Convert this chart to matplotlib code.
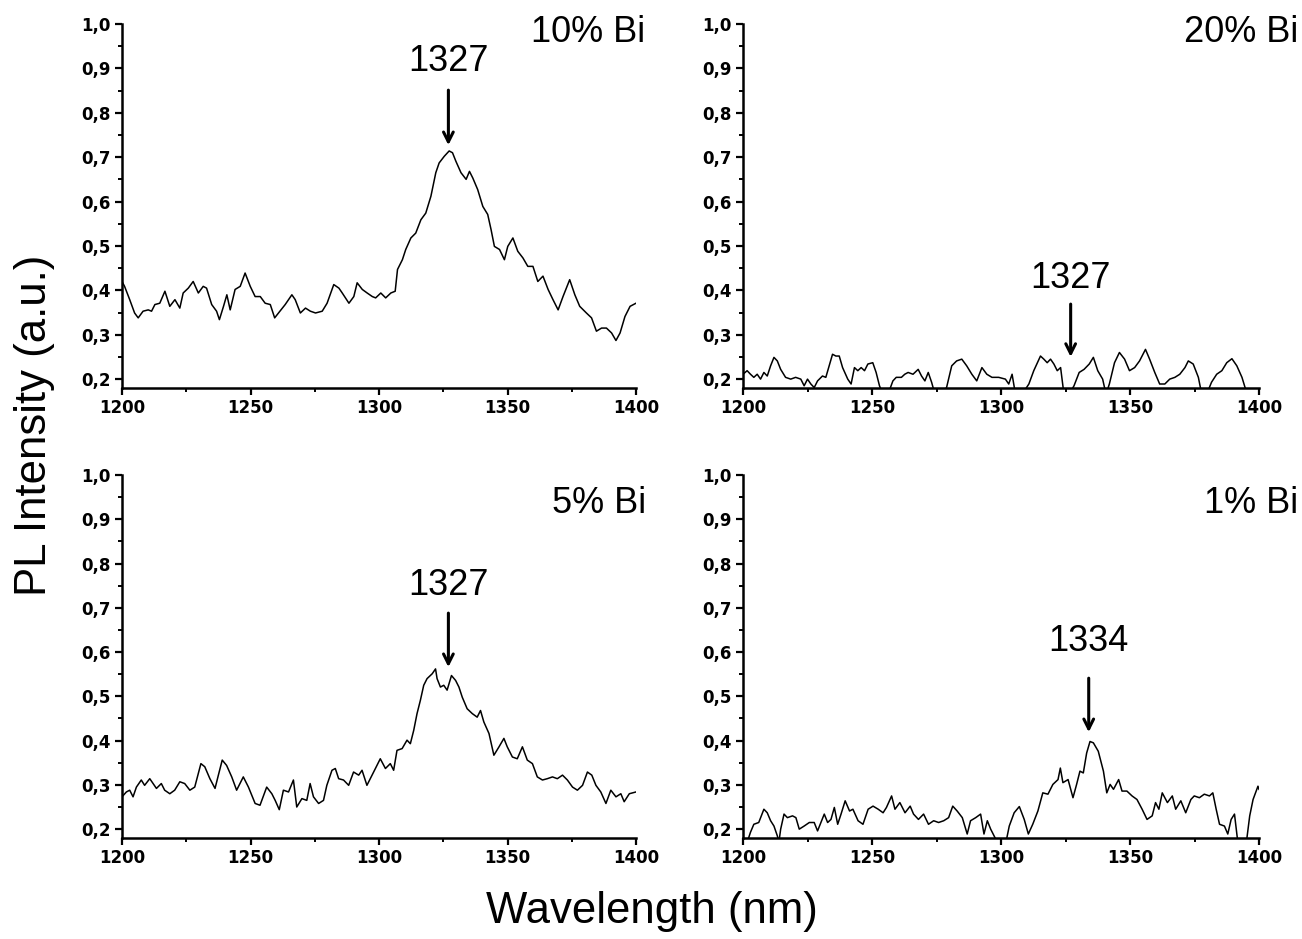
import matplotlib
matplotlib.use("Agg")
import matplotlib.pyplot as plt
from matplotlib.ticker import MultipleLocator, FuncFormatter

plt.rcParams['font.family'] = ['Liberation Sans', 'DejaVu Sans']

# ---------------- data ----------------
wl_10 = [1200.0, 1201.0, 1203.0, 1204.9, 1206.3, 1208.2, 1210.2, 1211.5, 1212.8, 1214.7, 1216.7, 1218.6,
         1220.6, 1222.5, 1223.8, 1225.8, 1227.7, 1229.7, 1231.6, 1232.9, 1234.9, 1236.8, 1237.9, 1239.5,
         1240.8, 1242.1, 1244.0, 1246.0, 1247.9, 1249.9, 1251.8, 1253.8, 1255.7, 1257.7, 1259.4, 1260.9,
         1263.5, 1266.1, 1267.4, 1269.4, 1271.4, 1273.3, 1275.3, 1277.9, 1279.8, 1282.4, 1284.4, 1285.7,
         1288.3, 1290.2, 1291.5, 1293.5, 1295.4, 1297.4, 1298.7, 1300.7, 1302.6, 1304.6, 1306.3, 1307.2,
         1309.1, 1310.4, 1312.4, 1314.3, 1316.3, 1318.2, 1320.2, 1322.1, 1323.4, 1325.4, 1327.3, 1328.6,
         1329.9, 1331.9, 1333.9, 1335.2, 1336.5, 1338.4, 1340.4, 1342.3, 1343.6, 1344.9, 1346.9, 1348.8,
         1350.1, 1352.1, 1354.0, 1356.0, 1357.9, 1359.9, 1361.8, 1363.8, 1365.8, 1367.7, 1369.7, 1371.6,
         1374.2, 1376.2, 1378.1, 1380.7, 1382.7, 1384.6, 1386.6, 1388.5, 1390.5, 1392.2, 1393.8, 1395.7,
         1397.7, 1400.0]
pl_10 = [0.420, 0.409, 0.379, 0.349, 0.338, 0.353, 0.356, 0.353, 0.368, 0.371, 0.398, 0.364,
         0.379, 0.360, 0.394, 0.405, 0.420, 0.394, 0.409, 0.405, 0.368, 0.353, 0.334, 0.364,
         0.390, 0.356, 0.402, 0.409, 0.439, 0.409, 0.386, 0.386, 0.371, 0.368, 0.338, 0.349,
         0.368, 0.390, 0.379, 0.349, 0.360, 0.353, 0.349, 0.353, 0.371, 0.413, 0.405, 0.394,
         0.371, 0.386, 0.417, 0.402, 0.394, 0.386, 0.383, 0.394, 0.383, 0.394, 0.398, 0.447,
         0.469, 0.492, 0.518, 0.529, 0.559, 0.574, 0.612, 0.665, 0.687, 0.702, 0.714, 0.710,
         0.691, 0.665, 0.650, 0.668, 0.653, 0.627, 0.589, 0.571, 0.537, 0.499, 0.492, 0.469,
         0.499, 0.518, 0.488, 0.473, 0.454, 0.454, 0.420, 0.432, 0.402, 0.379, 0.356, 0.386,
         0.424, 0.390, 0.364, 0.349, 0.338, 0.308, 0.315, 0.315, 0.304, 0.287, 0.304, 0.341,
         0.364, 0.371]

wl_20 = [1200.0, 1201.6, 1202.9, 1204.2, 1205.5, 1206.8, 1208.1, 1209.4, 1210.7, 1212.0, 1213.3, 1214.6,
         1216.5, 1218.5, 1220.4, 1222.4, 1223.7, 1225.0, 1226.3, 1227.6, 1228.9, 1230.8, 1232.1, 1233.4,
         1234.7, 1236.0, 1237.3, 1238.6, 1240.6, 1241.9, 1243.2, 1244.5, 1245.8, 1247.1, 1248.4, 1250.3,
         1251.6, 1252.9, 1254.2, 1256.2, 1258.1, 1259.4, 1261.4, 1262.7, 1264.0, 1265.9, 1267.9, 1269.2,
         1270.5, 1271.8, 1273.1, 1274.4, 1277.0, 1278.9, 1280.9, 1282.8, 1284.8, 1286.7, 1288.7, 1290.6,
         1292.6, 1294.5, 1296.5, 1299.1, 1301.7, 1303.0, 1304.3, 1305.6, 1308.2, 1310.8, 1312.7, 1315.3,
         1316.6, 1317.9, 1319.2, 1320.5, 1321.8, 1323.1, 1324.4, 1326.4, 1328.3, 1330.3, 1332.2, 1334.2,
         1335.8, 1337.5, 1339.4, 1340.7, 1342.0, 1344.0, 1345.9, 1347.9, 1349.8, 1351.8, 1353.7, 1356.0,
         1357.6, 1359.6, 1361.5, 1363.5, 1365.4, 1367.4, 1369.3, 1371.3, 1372.6, 1374.5, 1376.5, 1377.8,
         1379.7, 1381.6, 1383.6, 1385.6, 1387.5, 1389.5, 1391.4, 1393.4, 1394.6, 1395.9]
pl_20 = [0.211, 0.219, 0.211, 0.204, 0.211, 0.200, 0.215, 0.207, 0.230, 0.249, 0.241, 0.222,
         0.204, 0.200, 0.204, 0.200, 0.185, 0.200, 0.189, 0.181, 0.196, 0.207, 0.204, 0.230,
         0.256, 0.252, 0.252, 0.226, 0.200, 0.189, 0.226, 0.219, 0.226, 0.219, 0.234, 0.237,
         0.215, 0.185, 0.166, 0.166, 0.196, 0.204, 0.204, 0.211, 0.215, 0.211, 0.222, 0.207,
         0.196, 0.215, 0.193, 0.166, 0.166, 0.181, 0.230, 0.241, 0.245, 0.230, 0.211, 0.196,
         0.226, 0.211, 0.204, 0.204, 0.200, 0.189, 0.211, 0.166, 0.166, 0.189, 0.219, 0.252,
         0.245, 0.237, 0.245, 0.234, 0.219, 0.226, 0.166, 0.166, 0.185, 0.215, 0.222, 0.234,
         0.249, 0.219, 0.200, 0.166, 0.189, 0.237, 0.260, 0.245, 0.219, 0.226, 0.241, 0.267,
         0.245, 0.215, 0.189, 0.189, 0.200, 0.204, 0.211, 0.226, 0.241, 0.234, 0.204, 0.166,
         0.166, 0.193, 0.211, 0.219, 0.237, 0.246, 0.230, 0.204, 0.181, 0.166]

wl_5 = [1200.0, 1201.7, 1203.0, 1204.3, 1205.6, 1207.5, 1208.8, 1210.8, 1212.1, 1213.4, 1215.3, 1216.6,
        1218.6, 1220.5, 1222.5, 1224.4, 1226.4, 1228.3, 1230.7, 1232.2, 1234.2, 1236.2, 1237.5, 1239.0,
        1240.7, 1242.7, 1244.6, 1247.2, 1249.2, 1251.8, 1253.7, 1256.3, 1258.3, 1259.6, 1261.2, 1262.8,
        1264.8, 1266.7, 1268.0, 1270.0, 1271.9, 1273.2, 1274.5, 1276.5, 1278.4, 1279.7, 1281.7, 1283.0,
        1284.3, 1286.2, 1288.2, 1290.1, 1292.1, 1293.4, 1295.3, 1297.3, 1298.6, 1300.5, 1302.5, 1304.4,
        1305.7, 1307.0, 1309.0, 1310.9, 1312.2, 1313.5, 1314.8, 1316.1, 1317.4, 1318.7, 1320.7, 1322.0,
        1322.6, 1323.9, 1325.2, 1326.5, 1328.2, 1329.8, 1331.1, 1332.4, 1334.3, 1336.3, 1338.2, 1339.5,
        1340.8, 1342.8, 1344.7, 1346.7, 1348.6, 1349.9, 1351.9, 1353.8, 1355.8, 1357.7, 1359.7, 1361.6,
        1363.6, 1365.5, 1367.5, 1369.4, 1371.4, 1373.3, 1375.3, 1377.2, 1379.2, 1381.1, 1382.8, 1384.4,
        1386.3, 1388.3, 1390.2, 1392.2, 1394.1, 1395.4, 1397.4, 1400.0]
pl_5 = [0.273, 0.284, 0.288, 0.273, 0.295, 0.311, 0.299, 0.314, 0.303, 0.292, 0.303, 0.288,
        0.280, 0.288, 0.307, 0.303, 0.288, 0.295, 0.348, 0.341, 0.314, 0.292, 0.322, 0.356,
        0.344, 0.318, 0.288, 0.318, 0.295, 0.258, 0.254, 0.295, 0.280, 0.265, 0.244, 0.288,
        0.284, 0.311, 0.250, 0.269, 0.265, 0.303, 0.273, 0.258, 0.265, 0.299, 0.333, 0.337,
        0.314, 0.311, 0.299, 0.329, 0.322, 0.333, 0.299, 0.322, 0.337, 0.359, 0.337, 0.348,
        0.333, 0.378, 0.382, 0.401, 0.393, 0.423, 0.461, 0.491, 0.525, 0.540, 0.551, 0.562,
        0.540, 0.521, 0.525, 0.514, 0.547, 0.536, 0.521, 0.498, 0.472, 0.461, 0.453, 0.468,
        0.442, 0.416, 0.367, 0.386, 0.405, 0.386, 0.363, 0.359, 0.386, 0.356, 0.348, 0.318,
        0.311, 0.314, 0.318, 0.314, 0.322, 0.311, 0.295, 0.288, 0.299, 0.329, 0.322, 0.299,
        0.284, 0.258, 0.288, 0.273, 0.280, 0.262, 0.280, 0.284]

wl_1 = [1200.0, 1201.6, 1202.9, 1204.2, 1206.1, 1208.1, 1209.4, 1210.7, 1212.0, 1213.3, 1213.9, 1214.6,
        1215.9, 1217.2, 1219.2, 1220.5, 1221.8, 1223.7, 1225.7, 1227.6, 1228.9, 1230.2, 1231.5, 1232.8,
        1234.1, 1235.4, 1236.7, 1238.0, 1239.6, 1241.3, 1242.6, 1244.6, 1246.5, 1248.5, 1250.4, 1252.4,
        1254.3, 1255.6, 1257.6, 1258.9, 1260.8, 1262.8, 1264.8, 1266.1, 1268.0, 1270.0, 1271.9, 1273.9,
        1275.8, 1277.8, 1279.7, 1281.3, 1283.0, 1285.0, 1286.9, 1288.2, 1290.2, 1292.1, 1293.4, 1294.7,
        1296.0, 1297.3, 1298.6, 1299.9, 1301.9, 1303.2, 1305.1, 1307.1, 1309.0, 1310.6, 1312.3, 1314.3,
        1316.2, 1318.2, 1320.1, 1322.1, 1323.0, 1324.0, 1326.0, 1327.9, 1329.3, 1330.6, 1331.9, 1333.2,
        1334.5, 1335.8, 1337.7, 1339.7, 1341.0, 1342.3, 1343.6, 1345.6, 1346.9, 1348.8, 1350.8, 1352.7,
        1354.7, 1356.6, 1358.6, 1359.9, 1361.2, 1362.5, 1364.5, 1366.4, 1367.7, 1369.7, 1371.6, 1373.6,
        1374.9, 1376.9, 1378.8, 1380.8, 1382.1, 1383.4, 1384.7, 1386.6, 1387.9, 1389.2, 1390.5, 1391.8,
        1393.2, 1395.1, 1396.4, 1397.7, 1399.6, 1400.0]
pl_1 = [0.170, 0.170, 0.193, 0.211, 0.215, 0.245, 0.237, 0.219, 0.207, 0.185, 0.170, 0.200,
        0.234, 0.226, 0.230, 0.226, 0.200, 0.207, 0.215, 0.215, 0.196, 0.215, 0.234, 0.215,
        0.222, 0.249, 0.211, 0.234, 0.264, 0.241, 0.245, 0.219, 0.211, 0.245, 0.252, 0.245,
        0.237, 0.249, 0.275, 0.245, 0.260, 0.237, 0.252, 0.234, 0.222, 0.234, 0.211, 0.219,
        0.215, 0.219, 0.226, 0.252, 0.241, 0.226, 0.189, 0.219, 0.226, 0.234, 0.189, 0.219,
        0.200, 0.185, 0.170, 0.170, 0.170, 0.207, 0.237, 0.251, 0.222, 0.189, 0.211, 0.241,
        0.282, 0.279, 0.301, 0.312, 0.338, 0.305, 0.312, 0.271, 0.301, 0.331, 0.327, 0.372,
        0.398, 0.395, 0.376, 0.331, 0.282, 0.301, 0.290, 0.312, 0.286, 0.286, 0.275, 0.267,
        0.245, 0.222, 0.230, 0.260, 0.245, 0.282, 0.260, 0.275, 0.245, 0.264, 0.237, 0.267,
        0.275, 0.271, 0.279, 0.275, 0.282, 0.245, 0.211, 0.207, 0.189, 0.222, 0.234, 0.170,
        0.170, 0.170, 0.230, 0.267, 0.297, 0.290]

panel_labels = ["10% Bi", "20% Bi", "5% Bi", "1% Bi"]
peak_labels = ["1327", "1327", "1327", "1334"]
peak_wl = [1327, 1327, 1327, 1334]
# (text baseline, arrow start, arrow tip) in intensity units
peak_text_y = [0.894, 0.405, 0.729, 0.602]
arrow_top = [0.851, 0.369, 0.688, 0.541]
arrow_tip = [0.727, 0.250, 0.566, 0.419]

x_ticks = [1200, 1250, 1300, 1350, 1400]
y_ticks = [0.2, 0.3, 0.4, 0.5, 0.6, 0.7, 0.8, 0.9, 1.0]

series = [(wl_10, pl_10), (wl_20, pl_20), (wl_5, pl_5), (wl_1, pl_1)]

# ---------------- figure ----------------
W, H = 1302, 939
fig = plt.figure(figsize=(W / 100, H / 100), dpi=100)

boxes = [
    (122, 24, 636, 388),
    (743, 24, 1259, 388),
    (122, 475, 636, 838),
    (743, 475, 1259, 838),
]
# label positions in axes fraction: (x_right, baseline)
label_pos = [(1.0175, 0.950), (1.0756, 0.950), (1.019, 0.895), (1.0756, 0.895)]

fmt = FuncFormatter(lambda v, p: f"{v:.1f}".replace(".", ","))

for i, (x0, y0, x1, y1) in enumerate(boxes):
    ax = fig.add_axes([x0 / W, 1 - y1 / H, (x1 - x0) / W, (y1 - y0) / H])
    wl, pl = series[i]
    ax.plot(wl, pl, color="black", lw=1.1)
    ax.set_xlim(1200, 1400)
    ax.set_ylim(0.18, 1.0)
    ax.set_xticks(x_ticks)
    ax.set_yticks(y_ticks)
    ax.xaxis.set_minor_locator(MultipleLocator(25))
    ax.yaxis.set_minor_locator(MultipleLocator(0.05))
    ax.yaxis.set_major_formatter(fmt)
    for s in ["top", "right"]:
        ax.spines[s].set_visible(False)
    for s in ["left", "bottom"]:
        ax.spines[s].set_linewidth(1.8)
    ax.tick_params(which="major", direction="out", length=5, width=1.6, pad=3)
    ax.tick_params(which="minor", direction="out", length=3, width=1.4)
    for lab in ax.get_xticklabels() + ax.get_yticklabels():
        lab.set_fontfamily(['DejaVu Sans'])
        lab.set_fontweight('bold')
        lab.set_fontsize(12)
    ax.text(label_pos[i][0], label_pos[i][1], panel_labels[i], transform=ax.transAxes,
            ha="right", va="baseline", fontsize=26, clip_on=False)
    ax.text(peak_wl[i], peak_text_y[i], peak_labels[i], ha="center", va="baseline",
            fontsize=26)
    ax.annotate("", xy=(peak_wl[i], arrow_tip[i]), xytext=(peak_wl[i], arrow_top[i]),
                arrowprops=dict(arrowstyle="->,head_length=0.7,head_width=0.35",
                                color="black", lw=2.2, shrinkA=0, shrinkB=0))

fig.text(35 / W, 1 - 425 / H, "PL Intensity (a.u.)", rotation=90,
         ha="center", va="center", fontsize=31.5)
fig.text(652 / W, 1 - 912 / H, "Wavelength (nm)", ha="center", va="center", fontsize=31.5)

fig.savefig("out.png", dpi=100)
